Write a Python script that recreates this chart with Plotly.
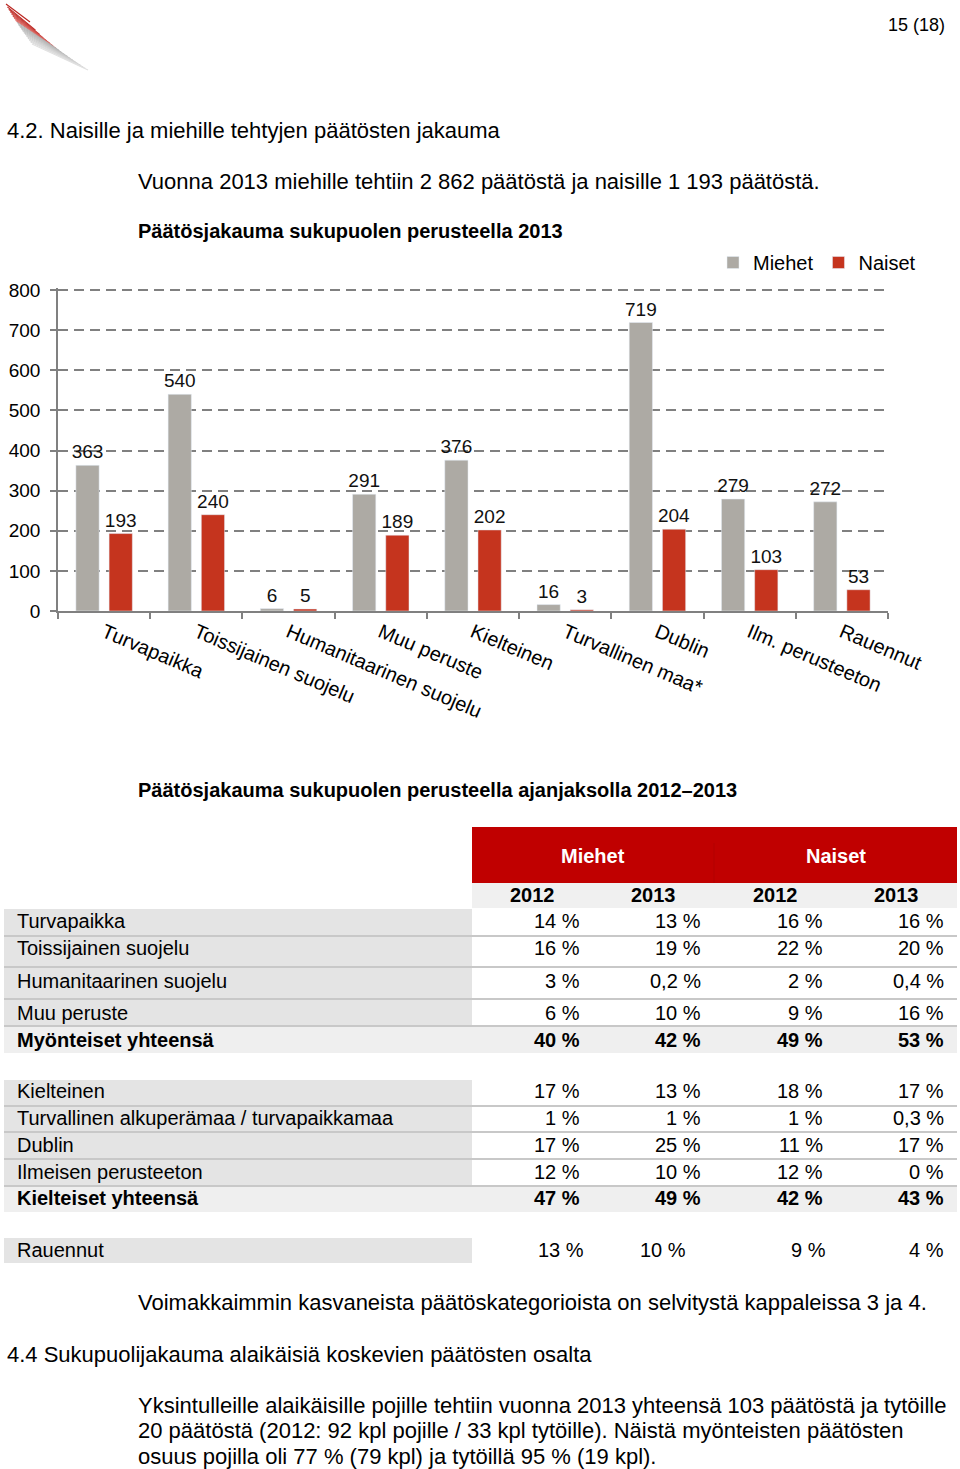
import plotly.graph_objects as go

W, H = 960, 1469

# ---------------- chart data ----------------
categories = ["Turvapaikka", "Toissijainen suojelu", "Humanitaarinen suojelu",
              "Muu peruste", "Kielteinen", "Turvallinen maa*", "Dublin",
              "Ilm. perusteeton", "Rauennut"]
miehet = [363, 540, 6, 291, 376, 16, 719, 279, 272]
naiset = [193, 240, 5, 189, 202, 3, 204, 103, 53]
y_ticks = [0, 100, 200, 300, 400, 500, 600, 700, 800]
series_names = ["Miehet", "Naiset"]

# ---------------- table data ----------------
table_groups = ["Miehet", "Naiset"]
table_years = ["2012", "2013", "2012", "2013"]
table_labels = ["Turvapaikka", "Toissijainen suojelu", "Humanitaarinen suojelu",
                "Muu peruste", "Myönteiset yhteensä",
                "Kielteinen", "Turvallinen alkuperämaa / turvapaikkamaa", "Dublin",
                "Ilmeisen perusteeton", "Kielteiset yhteensä", "Rauennut"]
miehet_2012 = ["14 %", "16 %", "3 %", "6 %", "40 %", "17 %", "1 %", "17 %", "12 %", "47 %", "13 %"]
miehet_2013 = ["13 %", "19 %", "0,2 %", "10 %", "42 %", "13 %", "1 %", "25 %", "10 %", "49 %", "10 %"]
naiset_2012 = ["16 %", "22 %", "2 %", "9 %", "49 %", "18 %", "1 %", "11 %", "12 %", "42 %", "9 %"]
naiset_2013 = ["16 %", "20 %", "0,4 %", "16 %", "53 %", "17 %", "0,3 %", "17 %", "0 %", "43 %", "4 %"]

# ---------------- page text ----------------
page_number = "15 (18)"
heading_42 = "4.2. Naisille ja miehille tehtyjen päätösten jakauma"
intro_line = "Vuonna 2013 miehille tehtiin 2 862 päätöstä ja naisille 1 193 päätöstä."
chart_title = "Päätösjakauma sukupuolen perusteella 2013"
table_title = "Päätösjakauma sukupuolen perusteella ajanjaksolla 2012–2013"
after_table = "Voimakkaimmin kasvaneista päätöskategorioista on selvitystä kappaleissa 3 ja 4."
heading_44 = "4.4 Sukupuolijakauma alaikäisiä koskevien päätösten osalta"
paragraph_lines = [
    "Yksintulleille alaikäisille pojille tehtiin vuonna 2013 yhteensä 103 päätöstä ja tytöille",
    "20 päätöstä (2012: 92 kpl pojille / 33 kpl tytöille). Näistä myönteisten päätösten",
    "osuus pojilla oli 77 % (79 kpl) ja tytöillä 95 % (19 kpl).",
]

# ---------------- styles ----------------
GRAY_BAR = "#ADAAA4"
RED_BAR = "#C5341E"
AXIS_GRAY = "#808080"
FONT = "Liberation Sans, Arial, sans-serif"


def px(x):
    return x / W


def py(y):
    return 1 - y / H


fig = go.Figure()
fig.add_trace(go.Bar(x=categories, y=miehet, name=series_names[0], marker_color=GRAY_BAR,
                     text=miehet, textposition="outside", constraintext="none",
                     cliponaxis=False, textfont=dict(size=19, color="#111")))
fig.add_trace(go.Bar(x=categories, y=naiset, name=series_names[1], marker_color=RED_BAR,
                     text=naiset, textposition="outside", constraintext="none",
                     cliponaxis=False, textfont=dict(size=19, color="#111")))

shapes = []
annotations = []


def text(x, y, s, size=20, bold=False, anchor="left", color="#000"):
    if bold:
        s = "<b>" + s + "</b>"
    annotations.append(dict(x=px(x), y=py(y), xref="paper", yref="paper", text=s,
                            showarrow=False, xanchor=anchor, yanchor="middle",
                            font=dict(size=size, color=color, family=FONT)))


def rect(x0, y0, x1, y1, color):
    shapes.append(dict(type="rect", xref="paper", yref="paper", x0=px(x0), x1=px(x1),
                       y0=py(y1), y1=py(y0), fillcolor=color, line=dict(width=0),
                       layer="below"))


def hline(x0, x1, y, color, width):
    shapes.append(dict(type="line", xref="paper", yref="paper", x0=px(x0), x1=px(x1),
                       y0=py(y), y1=py(y), line=dict(color=color, width=width)))


# logo (decorative wing of strokes: red upper edge, grey fan below)
n_strokes = 20
for i in range(n_strokes):
    t = i / (n_strokes - 1)
    x0 = 6 + 26 * t
    y0 = 4 + 40 * t ** 0.9
    x1 = 30 + 58 * t ** 0.8
    y1 = 22 + 48 * t ** 0.6
    if t < 0.4:
        k = t / 0.4
        color = f"rgb({int(185 + 40 * k)},{int(35 + 80 * k)},{int(30 + 80 * k)})"
    else:
        k = (t - 0.4) / 0.6
        v = int(175 + 50 * k)
        color = f"rgb({v},{v},{v})"
    shapes.append(dict(type="line", xref="paper", yref="paper", x0=px(x0), y0=py(y0),
                       x1=px(x1), y1=py(y1), line=dict(color=color, width=1.1)))

# page texts
text(947, 25, page_number, size=18, anchor="right")
text(5, 131, heading_42, size=22)
text(136, 181, intro_line, size=22)
text(136, 231, chart_title, size=20, bold=True)
text(136, 790, table_title, size=20, bold=True)
text(136, 1302, after_table, size=22)
text(5, 1354, heading_44, size=22)
for i, line in enumerate(paragraph_lines):
    text(136, 1405 + i * 25.5, line, size=22)

# ---------------- table drawing ----------------
col_edges = [472, 593, 714, 836, 957]
label_left = 4
# row geometry: (top, bottom, text_y, kind)
row_geom = [
    (909, 935, 921, "n"), (936, 967, 948, "n"), (968, 999, 981, "n"),
    (1000, 1026, 1013, "n"), (1027, 1053, 1040, "t"),
    (1080, 1106, 1091, "n"), (1106, 1132, 1118, "n"), (1132, 1159, 1145, "n"),
    (1159, 1186, 1172, "n"), (1186, 1212, 1198, "t"), (1238, 1263, 1250, "r"),
]
separators = [936, 967, 999, 1026, 1106, 1132, 1159, 1186]

# header
rect(col_edges[0], 827, col_edges[-1], 883, "#C00000")
shapes.append(dict(type="line", xref="paper", yref="paper", x0=px(714), x1=px(714),
                   y0=py(843), y1=py(883), line=dict(color="#B20000", width=1)))
rect(col_edges[0], 883, col_edges[-1], 908, "#F0F0F0")
for gi, g in enumerate(table_groups):
    cx = (col_edges[gi * 2] + col_edges[gi * 2 + 2]) / 2
    text(cx, 856, g, size=20, bold=True, anchor="center", color="#FFFFFF")
for ci, yr in enumerate(table_years):
    cx = (col_edges[ci] + col_edges[ci + 1]) / 2
    text(cx, 895, yr, size=20, bold=True, anchor="center")

value_cols = [miehet_2012, miehet_2013, naiset_2012, naiset_2013]
normal_right = [582, 703, 825, 946]
rauennut_right = [586, 688, 828, 946]
for ri, (top, bot, ty, kind) in enumerate(row_geom):
    if kind == "t":
        rect(label_left, top, col_edges[-1], bot, "#EFEFEF")
    else:
        rect(label_left, top, col_edges[0], bot, "#E4E4E4")
    bold = kind == "t"
    text(15, ty, table_labels[ri], size=20, bold=bold)
    rights = rauennut_right if kind == "r" else normal_right
    for ci, col in enumerate(value_cols):
        text(rights[ci], ty, col[ri], size=20, bold=bold, anchor="right")
for sy in separators:
    hline(label_left, col_edges[-1], sy, "#C8C8C8", 2)

Y_MAX = 805  # slightly above 800 so plotly keeps the 800 gridline
fig.update_layout(
    width=W, height=H,
    margin=dict(l=0, r=0, t=0, b=0, pad=0),
    paper_bgcolor="white", plot_bgcolor="white",
    font=dict(family=FONT, size=19, color="#000"),
    barmode="group", bargap=0.28, bargroupgap=0.30,
    showlegend=True,
    legend=dict(orientation="h", x=px(713), xanchor="left", y=py(243), yanchor="top",
                font=dict(size=20), itemwidth=30, bgcolor="rgba(0,0,0,0)", traceorder="normal"),
    xaxis=dict(domain=[px(58), px(888)], showline=True, linecolor=AXIS_GRAY, linewidth=2,
               ticks="outside", tickson="boundaries", ticklen=6, tickcolor=AXIS_GRAY,
               tickwidth=1.5, tickangle=23, tickfont=dict(size=20), showgrid=False,
               automargin=False, fixedrange=True),
    yaxis=dict(domain=[py(611), py(611 - 321 * Y_MAX / 800)], range=[0, Y_MAX], tickvals=y_ticks,
               showline=True, linecolor=AXIS_GRAY, linewidth=1.5, ticks="outside",
               ticklen=6, tickcolor=AXIS_GRAY, tickwidth=1.5, showgrid=True,
               gridcolor=AXIS_GRAY, gridwidth=1.5, griddash="10px,6px", zeroline=False,
               tickfont=dict(size=19), automargin=False, ticklabelstandoff=6),
    shapes=shapes, annotations=annotations,
)

fig.write_html("out.html", config={"displayModeBar": False},
               post_script="document.body.style.margin='0px';")
